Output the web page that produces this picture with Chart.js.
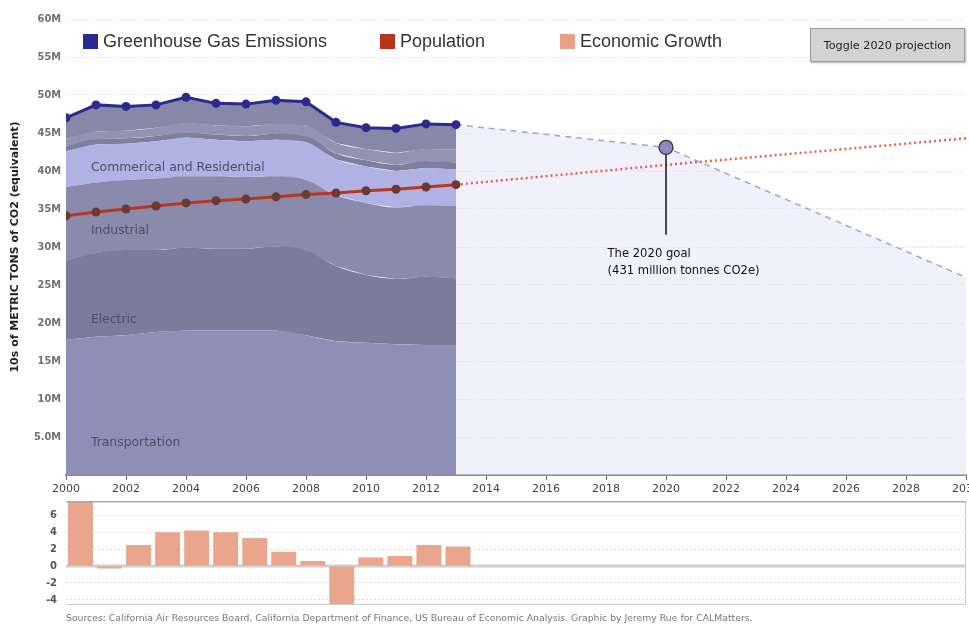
<!DOCTYPE html>
<html><head><meta charset="utf-8">
<script src="https://cdn.jsdelivr.net/npm/chart.js@4.4.1/dist/chart.umd.min.js"></script>
<style>
html,body{margin:0;padding:0;background:#fff;width:969px;height:624px;overflow:hidden;font-family:"Liberation Sans",Arial,sans-serif;}
#wrap{position:relative;width:969px;height:624px;}
#main{position:absolute;left:0;top:0;}
#gdp{position:absolute;left:0;top:495px;}
.leg{position:absolute;top:33px;font-size:18px;color:#333;line-height:17px;display:flex;align-items:center;white-space:nowrap;}
.sw{display:inline-block;width:15px;height:15px;margin-right:5px;}
#btn{position:absolute;left:810px;top:28px;width:155px;height:34px;background:#d3d3d3;border:1px solid #9a9a9a;box-shadow:1px 1px 2px rgba(0,0,0,.3);font-family:"DejaVu Sans",Verdana,sans-serif;font-size:11.2px;color:#222;display:flex;align-items:center;justify-content:center;box-sizing:border-box;}
#src{position:absolute;left:66px;top:612px;font-family:"DejaVu Sans",Verdana,sans-serif;font-size:9.3px;color:#777;white-space:nowrap;}
</style></head>
<body><div id="wrap">
<canvas id="main" width="969" height="500"></canvas>
<canvas id="gdp" width="969" height="115"></canvas>
<div class="leg" style="left:83px"><span class="sw" style="background:#2b2a8e"></span>Greenhouse Gas Emissions</div>
<div class="leg" style="left:380px"><span class="sw" style="background:#b8351d"></span>Population</div>
<div class="leg" style="left:560px"><span class="sw" style="background:#e9a088"></span>Economic Growth</div>
<div id="btn">Toggle 2020 projection</div>
<div id="src">Sources: California Air Resources Board, California Department of Finance, US Bureau of Economic Analysis. Graphic by Jeremy Rue for CALMatters.</div>
</div>
<script>
// ---------- data ----------
const years = [2000,2001,2002,2003,2004,2005,2006,2007,2008,2009,2010,2011,2012,2013];
const transportation = [17.8,18.2,18.4,18.8,19.0,19.0,19.0,19.0,18.4,17.6,17.4,17.2,17.1,17.1];
const electric       = [10.4,11.0,11.2,10.8,10.9,10.8,10.8,11.1,11.2,9.9,8.9,8.6,9.0,8.8];
const industrial     = [9.7,9.3,9.2,9.4,9.4,9.5,9.4,9.2,9.2,9.3,9.5,9.4,9.4,9.5];
const commercialRes  = [4.7,5.0,4.8,4.9,5.1,4.8,4.7,4.8,5.0,4.7,4.8,4.8,4.9,4.8];
const recyclingWaste = [0.7,0.7,0.7,0.7,0.7,0.7,0.7,0.8,0.8,0.8,0.8,0.8,0.9,0.9];
const highGWP        = [0.9,1.0,1.0,1.1,1.2,1.2,1.3,1.3,1.4,1.4,1.5,1.6,1.6,1.7];
const agriculture    = [2.8,3.5,3.2,3.0,3.4,2.9,2.9,3.1,3.1,2.7,2.8,3.2,3.3,3.3];
const ghgEmissions   = [47.0,48.7,48.5,48.7,49.7,48.9,48.8,49.3,49.1,46.4,45.7,45.6,46.2,46.1];
const population     = [34.1,34.6,35.0,35.4,35.8,36.1,36.3,36.6,36.9,37.1,37.4,37.6,37.9,38.2];
const projYears      = [2013,2020,2030];
const ghgProjection  = [46.1,43.1,26.0];
const popProjection  = [38.2,40.8,44.3];
const goalYear = 2020, goalValue = 43.1, goalStemEnd = 31.6;
const growthYears = ['2000','2001','2002','2003','2004','2005','2006','2007','2008','2009','2010','2011','2012','2013','2014','2015','2016','2017','2018','2019','2020','2021','2022','2023','2024','2025','2026','2027','2028','2029','2030'];
const economicGrowth = [7.8,-0.3,2.5,4.0,4.2,4.0,3.3,1.7,0.6,-4.5,1.0,1.2,2.5,2.3];
const xTicks = [2000,2002,2004,2006,2008,2010,2012,2014,2016,2018,2020,2022,2024,2026,2028,2030];
const yTicksMain = [0,5,10,15,20,25,30,35,40,45,50,55,60];
const yTicksGrowth = [-4,-2,0,2,4,6];
const sectorNames = ['Transportation','Electric','Industrial','Commerical and Residential','Recycling and Waste','High GWP','Agriculture'];
const goalText = ['The 2020 goal','(431 million tonnes CO2e)'];

// ---------- helpers ----------
const FONT = '"Liberation Sans", Arial, sans-serif';
const VFONT = '"DejaVu Sans", Verdana, sans-serif';
Chart.defaults.font.family = VFONT;
const pts = (xs, ys) => xs.map((x, i) => ({x: x, y: ys[i]}));
const sectorSeries = [transportation, electric, industrial, commercialRes, recyclingWaste, highGWP, agriculture];
const sectorColors = ['#8e8fb6','#7b7b9c','#8a8aad','#b0b2e4','#7e7e9f','#9292b1','#8787a7'];

const sectorDatasets = sectorSeries.map((s, i) => ({
  label: sectorNames[i],
  data: pts(years, s),
  stack: 'sectors',
  fill: i === 0 ? 'origin' : 'stack',
  backgroundColor: sectorColors[i],
  borderWidth: 0,
  pointRadius: 0,
  tension: i === sectorSeries.length - 1 ? 0 : 0.4,
  cubicInterpolationMode: i === sectorSeries.length - 1 ? 'default' : 'monotone',
  order: 10
}));

// label anchors (value space) for sector names
const sectorLabelAnchors = [
  {text: sectorNames[3], x: 2000.83, y: 40.4},
  {text: sectorNames[2], x: 2000.83, y: 32.1},
  {text: sectorNames[1], x: 2000.83, y: 20.4},
  {text: sectorNames[0], x: 2000.83, y: 4.2}
];
const goalTextAnchor = {x: 2018.05, y1: 29.1, y2: 26.9};

const annotPlugin = {
  id: 'annot',
  afterDatasetsDraw(chart) {
    const {ctx, scales: {x, y}} = chart;
    ctx.save();
    ctx.font = '12.4px ' + VFONT;
    ctx.fillStyle = '#4e4e68';
    ctx.textBaseline = 'middle';
    sectorLabelAnchors.forEach(l => ctx.fillText(l.text, x.getPixelForValue(l.x), y.getPixelForValue(l.y)));
    // goal stem
    const gx = x.getPixelForValue(goalYear);
    ctx.strokeStyle = '#222';
    ctx.lineWidth = 1.6;
    ctx.beginPath();
    ctx.moveTo(gx, y.getPixelForValue(goalValue) + 7);
    ctx.lineTo(gx, y.getPixelForValue(goalStemEnd));
    ctx.stroke();
    ctx.fillStyle = '#111';
    ctx.font = '11.6px ' + VFONT;
    ctx.fillText(goalText[0], x.getPixelForValue(goalTextAnchor.x), y.getPixelForValue(goalTextAnchor.y1));
    ctx.fillText(goalText[1], x.getPixelForValue(goalTextAnchor.x), y.getPixelForValue(goalTextAnchor.y2));
    ctx.restore();
  }
};

new Chart(document.getElementById('main'), {
  type: 'line',
  data: {
    datasets: [
      {label: 'Population', data: pts(years, population), stack: 'pop', borderColor: '#b9371f', borderWidth: 3,
       pointRadius: 4.5, pointBackgroundColor: '#6d3a33', pointBorderWidth: 0, fill: false, tension: 0, order: 0},
      {label: 'Greenhouse Gas Emissions', data: pts(years, ghgEmissions), stack: 'ghg', borderColor: '#2b2a8e', borderWidth: 3,
       pointRadius: 4.5, pointBackgroundColor: '#2b2a8e', pointBorderWidth: 0, fill: false, tension: 0, order: 1},
      {label: 'Goal', data: [{x: goalYear, y: goalValue}], stack: 'goal', showLine: false,
       pointRadius: 7, pointBackgroundColor: '#8b8bc2', pointBorderColor: '#333', pointBorderWidth: 1.3, order: 0},
      {label: 'Population projection', data: pts(projYears, popProjection), stack: 'pproj', borderColor: '#e2664a',
       borderDash: [2, 3], borderWidth: 2.5, pointRadius: 0, fill: false, order: 2},
      {label: 'GHG projection', data: pts(projYears, ghgProjection), stack: 'gproj', borderColor: '#a3a3d8',
       borderDash: [6, 5], borderWidth: 1.5, pointRadius: 0, fill: 'origin', backgroundColor: 'rgba(228,228,250,0.5)', order: 3},
      ...sectorDatasets
    ]
  },
  options: {
    responsive: false, animation: false,
    layout: {autoPadding: false, padding: {top: 19, right: 3, left: 0, bottom: 0}},
    plugins: {legend: {display: false}, tooltip: {enabled: false}},
    scales: {
      x: {
        type: 'linear', min: 2000, max: 2030,
        afterBuildTicks: s => { s.ticks = xTicks.map(v => ({value: v})); },
        ticks: {callback: v => String(v), font: {size: 11}, color: '#444', padding: 3, maxRotation: 0, autoSkip: false},
        grid: {drawOnChartArea: false, drawTicks: true, tickLength: 5, color: '#666', lineWidth: 1},
        border: {display: true, color: '#8a8aa3', width: 2},
        afterFit: s => { s.height = 25; s.paddingLeft = 0; s.paddingRight = 0; }
      },
      y: {
        stacked: true, min: 0, max: 60,
        afterBuildTicks: s => { s.ticks = yTicksMain.map(v => ({value: v})); },
        ticks: {callback: v => v === 0 ? '' : (v < 10 ? v.toFixed(1) : v) + 'M', font: {size: 9.8, weight: 'bold'}, color: '#707070', padding: 5},
        grid: {color: '#d4d4d4', drawTicks: false, lineWidth: 1},
        border: {display: false, dash: [1, 2]},
        title: {display: true, text: '10s of METRIC TONS of CO2 (equivalent)', font: {size: 11, weight: 'bold'}, color: '#222', padding: {top: 9, bottom: 0}},
        afterFit: s => { s.width = 66; s.paddingTop = 0; s.paddingBottom = 0; }
      }
    }
  },
  plugins: [annotPlugin]
});

const boxPlugin = {
  id: 'box',
  beforeDatasetsDraw(chart) {
    const {ctx, chartArea: a, scales: {y}} = chart;
    ctx.save();
    ctx.strokeStyle = '#cfcfcf';
    ctx.lineWidth = 3;
    const zy = y.getPixelForValue(0);
    ctx.beginPath(); ctx.moveTo(a.left, zy); ctx.lineTo(a.right, zy); ctx.stroke();
    ctx.restore();
  },
  afterDraw(chart) {
    const {ctx, chartArea: a} = chart;
    ctx.save();
    ctx.strokeStyle = '#cccccc';
    ctx.lineWidth = 1;
    ctx.beginPath();
    ctx.moveTo(a.right - 0.5, a.top); ctx.lineTo(a.right - 0.5, a.bottom - 0.5); ctx.lineTo(a.left, a.bottom - 0.5);
    ctx.stroke();
    ctx.strokeStyle = '#a8a8a8';
    ctx.lineWidth = 1.5;
    ctx.beginPath(); ctx.moveTo(a.left, a.top); ctx.lineTo(a.right, a.top); ctx.stroke();
    ctx.restore();
  }
};

new Chart(document.getElementById('gdp'), {
  type: 'bar',
  data: {
    labels: growthYears,
    datasets: [{label: 'Economic Growth', data: economicGrowth, backgroundColor: '#e9a68c', borderWidth: 0,
      barPercentage: 0.86, categoryPercentage: 1}]
  },
  options: {
    responsive: false, animation: false,
    layout: {autoPadding: false, padding: {top: 6.7, right: 3, left: 0, bottom: 5}},
    plugins: {legend: {display: false}, tooltip: {enabled: false}},
    scales: {
      x: {display: false},
      y: {
        min: -4.6, max: 7.6,
        afterBuildTicks: s => { s.ticks = yTicksGrowth.map(v => ({value: v})); },
        ticks: {font: {size: 10, weight: 'bold'}, color: '#555', padding: 9},
        grid: {color: ctx => ctx.tick && ctx.tick.value === 0 ? 'rgba(0,0,0,0)' : '#dcdcdc', drawTicks: false},
        border: {display: false, dash: [2, 2]},
        afterFit: s => { s.width = 66; s.paddingTop = 0; s.paddingBottom = 0; }
      }
    }
  },
  plugins: [boxPlugin]
});
</script>
</body></html>
